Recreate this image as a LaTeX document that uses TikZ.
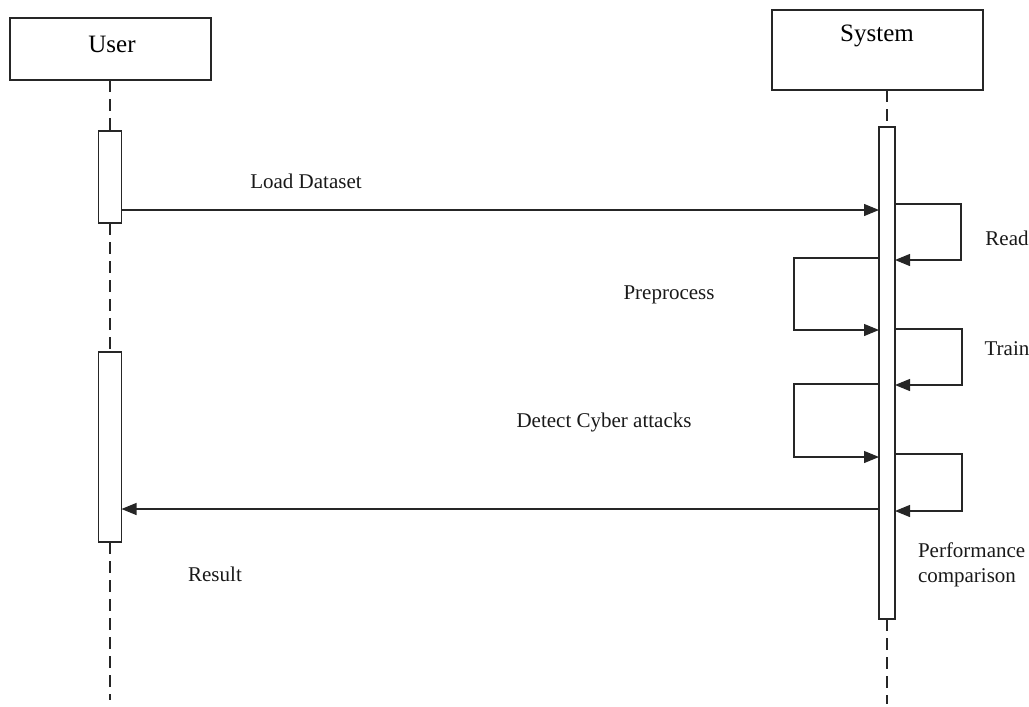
\documentclass[tikz,border=0pt]{standalone}
\usepackage{fontspec}
\setmainfont{Liberation Serif}
\usetikzlibrary{arrows.meta,calc}
\begin{document}
\begin{tikzpicture}[x=1pt,y=-1pt,
  every node/.style={inner sep=0pt,outer sep=0pt},
  ln/.style={line width=1.2pt,draw=black!85},
  head/.style={ln,rectangle,fill=white,font=\fontsize{25}{28}\selectfont},
  act/.style={ln,rectangle,fill=white},
  life/.style={line width=1.2pt,draw=black!85,dash pattern=on 12pt off 7pt},
  msg/.style={ln,-{Triangle[length=15pt,width=12pt]}},
  lbl/.style={font=\fontsize{21}{25}\selectfont,text=black!90}]
\useasboundingbox (0,0) rectangle (1029,707);
% heads
\node[head,minimum width=201pt,minimum height=62pt] (user) at (110.5,49) {};
\node[font=\fontsize{25}{28}\selectfont] (usert) at (112,44) {User};
\node[head,minimum width=211pt,minimum height=80pt] (sys) at (877.5,50) {};
\node[font=\fontsize{25}{28}\selectfont] (syst) at (877,36) {System};
% lifeline ends
\coordinate (uend) at (110,700);
\coordinate (send) at (887,704);
% activations
\node[act,minimum width=23pt,minimum height=92pt] (ua1) at (110,177) {};
\node[act,minimum width=23pt,minimum height=190pt] (ua2) at (110,447) {};
\node[act,minimum width=16pt,minimum height=492pt] (sa) at (887,373) {};
% lifelines
\draw[life] (user.south -| ua1.north) -- (ua1.north);
\draw[life] (ua1.south) -- (ua2.north);
\draw[life] (ua2.south) -- (uend);
\draw[life] (sys.south -| sa.north) -- (sa.north);
\draw[life] (sa.south) -- (send);
% Load Dataset
\coordinate (m1) at (0,210);
\draw[msg] (ua1.east |- m1) -- (sa.west |- m1);
\node[lbl] (l1) at (306,181) {Load Dataset};
% Read
\coordinate (r1) at (961,204);
\coordinate (r2) at (961,260);
\draw[msg] (sa.east |- r1) -- (r1) -- (r2) -- (sa.east |- r2);
\node[lbl] (l2) at (1007,238) {Read};
% Preprocess
\coordinate (p1) at (794,258);
\coordinate (p2) at (794,330);
\draw[msg] (sa.west |- p1) -- (p1) -- (p2) -- (sa.west |- p2);
\node[lbl] (l3) at (669,295) {Preprocess};
% Train
\coordinate (t1) at (962,329);
\coordinate (t2) at (962,385);
\draw[msg] (sa.east |- t1) -- (t1) -- (t2) -- (sa.east |- t2);
\node[lbl] (l4) at (1007,349) {Train};
% Detect
\coordinate (d1) at (794,384);
\coordinate (d2) at (794,457);
\draw[msg] (sa.west |- d1) -- (d1) -- (d2) -- (sa.west |- d2);
\node[lbl] (l5) at (604,422) {Detect Cyber attacks};
% Performance comparison
\coordinate (c1) at (962,454);
\coordinate (c2) at (962,511);
\draw[msg] (sa.east |- c1) -- (c1) -- (c2) -- (sa.east |- c2);
\node[lbl,anchor=west,align=left] (l6) at (918,565) {Performance\\comparison};
% Result
\coordinate (m2) at (0,509);
\draw[msg] (sa.west |- m2) -- (ua2.east |- m2);
\node[lbl] (l7) at (215,574) {Result};
\end{tikzpicture}
\end{document}
